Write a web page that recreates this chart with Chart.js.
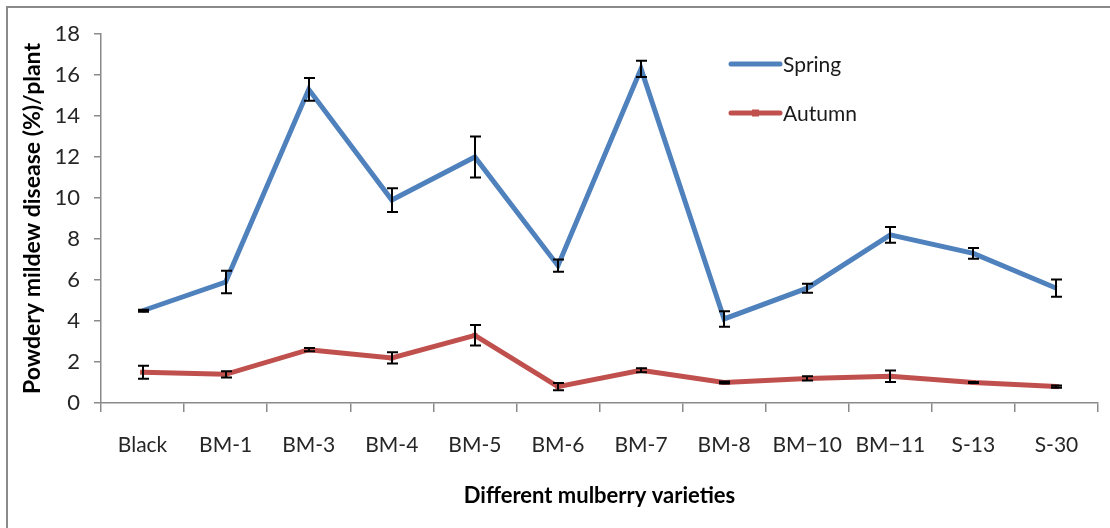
<!DOCTYPE html>
<html>
<head>
<meta charset="utf-8">
<title>Powdery mildew disease</title>
<script src="https://cdn.jsdelivr.net/npm/chart.js@4.4.1/dist/chart.umd.min.js"></script>
<style>
  html, body { margin: 0; padding: 0; background: #fff; }
  canvas { display: block; }
</style>
</head>
<body>
<canvas id="chart" width="1110" height="528"></canvas>
<script>
const varieties = ["Black", "BM-1", "BM-3", "BM-4", "BM-5", "BM-6", "BM-7", "BM-8", "BM\u221210", "BM\u221211", "S-13", "S-30"];

// mean disease (%) per plant and the +/- error for each season
const springValues = [4.5, 5.9, 15.3, 9.9, 12.0, 6.7, 16.3, 4.1, 5.6, 8.2, 7.3, 5.6];
const springErrors = [0.05, 0.55, 0.55, 0.58, 1.0, 0.3, 0.4, 0.38, 0.22, 0.38, 0.26, 0.42];
const autumnValues = [1.5, 1.4, 2.6, 2.2, 3.3, 0.8, 1.6, 1.0, 1.2, 1.3, 1.0, 0.8];
const autumnErrors = [0.32, 0.15, 0.08, 0.27, 0.5, 0.18, 0.1, 0.05, 0.1, 0.28, 0.03, 0.05];

const yMin = 0, yMax = 18, yStep = 2;

const FONT = "Lato, 'Open Sans', sans-serif";

// ------------------- Plugins -------------------

// white background plus the grey frame on the top and left edges
const frame = {
  id: "frame",
  beforeDraw(chart) {
    const { ctx, width, height } = chart;
    ctx.save();
    ctx.fillStyle = "#fff";
    ctx.fillRect(0, 0, width, height);
    ctx.strokeStyle = "#8a8a8a";
    ctx.lineWidth = 2;
    ctx.beginPath();
    ctx.moveTo(7, height);
    ctx.lineTo(7, 7);
    ctx.lineTo(width, 7);
    ctx.stroke();
    ctx.restore();
  }
};

// vertical error bars with caps, drawn over the lines
const errorBars = {
  id: "errorBars",
  afterDatasetsDraw(chart) {
    const { ctx, scales: { x, y } } = chart;
    ctx.save();
    ctx.strokeStyle = "#000";
    ctx.lineWidth = 2;
    chart.data.datasets.forEach((ds, i) => {
      if (!ds.errors || !chart.isDatasetVisible(i)) return;
      ds.data.forEach((v, j) => {
        const px = Math.round(x.getPixelForValue(j));
        const top = y.getPixelForValue(v + ds.errors[j]);
        const bot = y.getPixelForValue(v - ds.errors[j]);
        ctx.beginPath();
        ctx.moveTo(px, top);
        ctx.lineTo(px, bot);
        ctx.moveTo(px - 5, top);
        ctx.lineTo(px + 6, top);
        ctx.moveTo(px - 5, bot);
        ctx.lineTo(px + 6, bot);
        ctx.stroke();
      });
    });
    ctx.restore();
  }
};

// legend sitting inside the plot, top right
const seriesLegend = {
  id: "seriesLegend",
  afterDraw(chart) {
    const { ctx } = chart;
    const x0 = 731, x1 = 780, rows = [64, 113];
    ctx.save();
    chart.data.datasets.forEach((ds, i) => {
      const yy = rows[i];
      ctx.strokeStyle = ds.borderColor;
      ctx.lineWidth = 5;
      ctx.lineCap = "round";
      ctx.beginPath();
      ctx.moveTo(x0, yy);
      ctx.lineTo(x1, yy);
      ctx.stroke();
      if (ds.pointRadius > 0) {
        ctx.fillStyle = ds.borderColor;
        ctx.fillRect((x0 + x1) / 2 - 3.5, yy - 3.5, 7, 7);
      }
      ctx.fillStyle = "#1a1a1a";
      ctx.font = "21px " + FONT;
      ctx.textBaseline = "middle";
      ctx.textAlign = "left";
      ctx.fillText(ds.label, 783, yy + 1);
    });
    ctx.restore();
  }
};

// ------------------- Chart -------------------

new Chart(document.getElementById("chart").getContext("2d"), {
  type: "line",
  data: {
    labels: varieties,
    datasets: [
      {
        label: "Spring",
        data: springValues,
        errors: springErrors,
        borderColor: "#4f81bd",
        backgroundColor: "#4f81bd",
        borderWidth: 5,
        pointRadius: 0,
        tension: 0,
        fill: false
      },
      {
        label: "Autumn",
        data: autumnValues,
        errors: autumnErrors,
        borderColor: "#c0504d",
        backgroundColor: "#c0504d",
        borderWidth: 5,
        pointStyle: "rect",
        pointRadius: 3.5,
        pointBorderWidth: 0,
        tension: 0,
        fill: false
      }
    ]
  },
  options: {
    responsive: false,
    animation: false,
    devicePixelRatio: 1,
    layout: { padding: { top: 34, right: 12, left: 0, bottom: 0 } },
    plugins: {
      legend: { display: false },
      tooltip: { enabled: false }
    },
    scales: {
      x: {
        offset: true,
        afterFit(scale) { scale.height = 125; },
        grid: {
          offset: true,
          drawOnChartArea: false,
          tickLength: 9,
          color: "#8a8a8a",
          lineWidth: 1.5
        },
        border: { color: "#8a8a8a", width: 1.5 },
        ticks: {
          color: "#262626",
          padding: 21,
          maxRotation: 0,
          autoSkip: false,
          font: { family: FONT, size: 21 }
        },
        title: {
          display: true,
          text: "Different mulberry varieties",
          color: "#000",
          padding: { bottom: 19 },
          font: { family: FONT, size: 22, weight: "bold" }
        }
      },
      y: {
        min: yMin,
        max: yMax,
        afterFit(scale) { scale.width = 101; },
        grid: {
          drawOnChartArea: false,
          tickLength: 7,
          color: "#8a8a8a",
          lineWidth: 1.5
        },
        border: { color: "#8a8a8a", width: 1.5 },
        ticks: {
          stepSize: yStep,
          color: "#262626",
          padding: 14,
          font: { family: FONT, size: 22 }
        },
        title: {
          display: true,
          text: "Powdery mildew disease (%)/plant",
          color: "#000",
          padding: { top: 19 },
          font: { family: FONT, size: 23, weight: "bold" }
        }
      }
    }
  },
  plugins: [frame, errorBars, seriesLegend]
});
</script>
</body>
</html>
